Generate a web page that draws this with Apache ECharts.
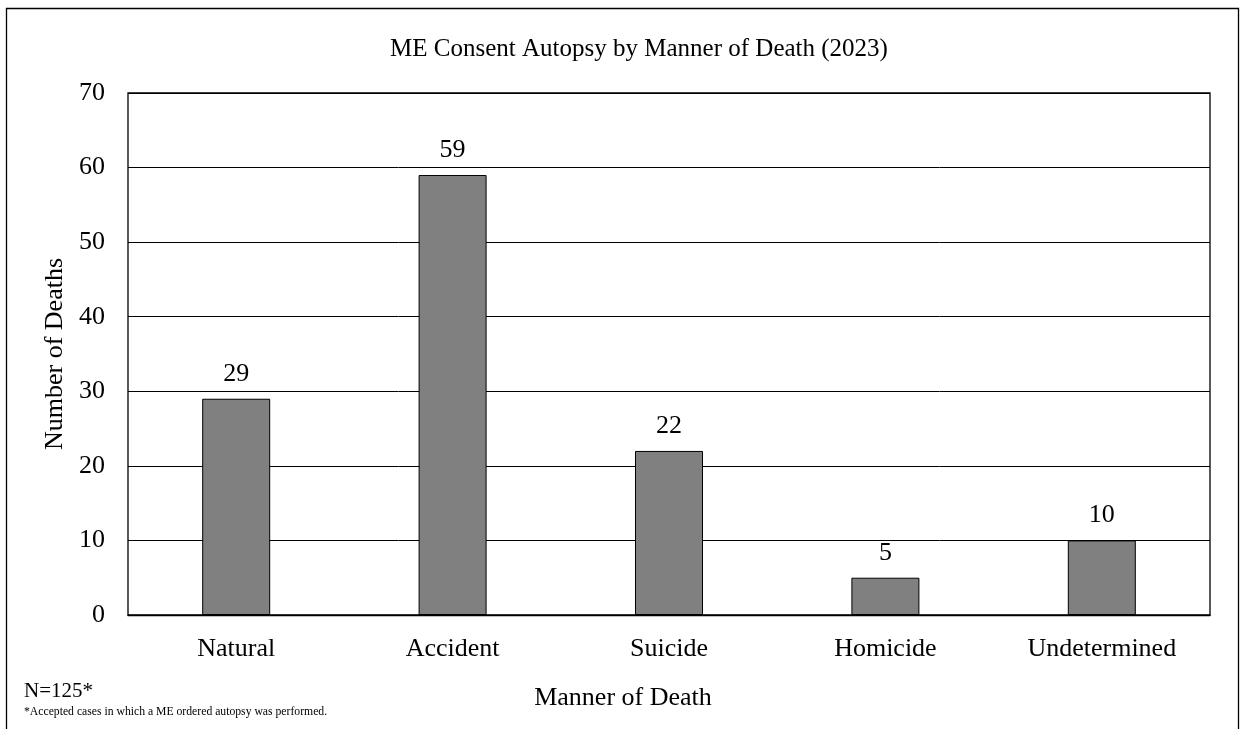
<!DOCTYPE html>
<html>
<head>
<meta charset="utf-8">
<style>
  html, body { margin: 0; padding: 0; background: #fff; }
  #chart { width: 1243px; height: 729px; }
</style>
<script src="https://cdn.jsdelivr.net/npm/echarts@6/dist/echarts.min.js"></script>
</head>
<body>
<div id="chart"></div>
<script>
// Manner-of-death categories and counts
const categories = ['Natural', 'Accident', 'Suicide', 'Homicide', 'Undetermined'];
const deaths = [29, 59, 22, 5, 10];

const titleText = 'ME Consent Autopsy by Manner of Death (2023)';
const xAxisTitle = 'Manner of Death';
const yAxisTitle = 'Number of Deaths';
const totalNote = 'N=125*';
const footnote = '*Accepted cases in which a ME ordered autopsy was performed.';

const serif = '"Liberation Serif", "Times New Roman", serif';

const chart = echarts.init(document.getElementById('chart'), null, { renderer: 'canvas' });

chart.setOption({
  backgroundColor: '#ffffff',
  animation: false,
  title: {
    text: titleText,
    left: 634,
    textAlign: 'center',
    top: 32,
    textStyle: { fontFamily: serif, fontSize: 25, fontWeight: 'normal', color: '#000' }
  },
  grid: {
    left: 128, right: 33, top: 93, bottom: 114,
    show: true, borderColor: '#000', borderWidth: 1.3, backgroundColor: 'transparent'
  },
  xAxis: {
    type: 'category',
    data: categories,
    axisLine: { lineStyle: { color: '#000', width: 1.3 } },
    axisTick: { show: false },
    axisLabel: { fontFamily: serif, fontSize: 26, color: '#000', margin: 21 }
  },
  yAxis: {
    type: 'value',
    min: 0, max: 70, interval: 10,
    name: yAxisTitle,
    nameLocation: 'middle',
    nameGap: 54,
    nameTextStyle: { fontFamily: serif, fontSize: 26, color: '#000' },
    axisLine: { show: false },
    axisTick: { show: false },
    axisLabel: { fontFamily: serif, fontSize: 26, color: '#000', margin: 23 },
    splitLine: { lineStyle: { color: '#000', width: 1 } }
  },
  series: [{
    type: 'bar',
    data: deaths,
    barWidth: 68,
    itemStyle: { color: '#808080', borderColor: '#000', borderWidth: 1 },
    label: {
      show: true, position: 'top', distance: 12,
      fontFamily: serif, fontSize: 26, color: '#000'
    }
  }],
  graphic: [
    {
      type: 'rect',
      shape: { x: 6.5, y: 8.5, width: 1232, height: 730 },
      style: { fill: 'none', stroke: '#000', lineWidth: 1.3 },
      silent: true
    },
    {
      type: 'text', x: 623, y: 698,
      style: { text: xAxisTitle, font: '26px ' + serif, fill: '#000', textAlign: 'center', textVerticalAlign: 'middle' }
    },
    {
      type: 'text', x: 24, y: 691,
      style: { text: totalNote, font: '21px ' + serif, fill: '#000', textVerticalAlign: 'middle' }
    },
    {
      type: 'text', x: 24, y: 712,
      style: { text: footnote, font: '11.7px ' + serif, fill: '#000', textVerticalAlign: 'middle' }
    }
  ]
});
</script>
</body>
</html>
